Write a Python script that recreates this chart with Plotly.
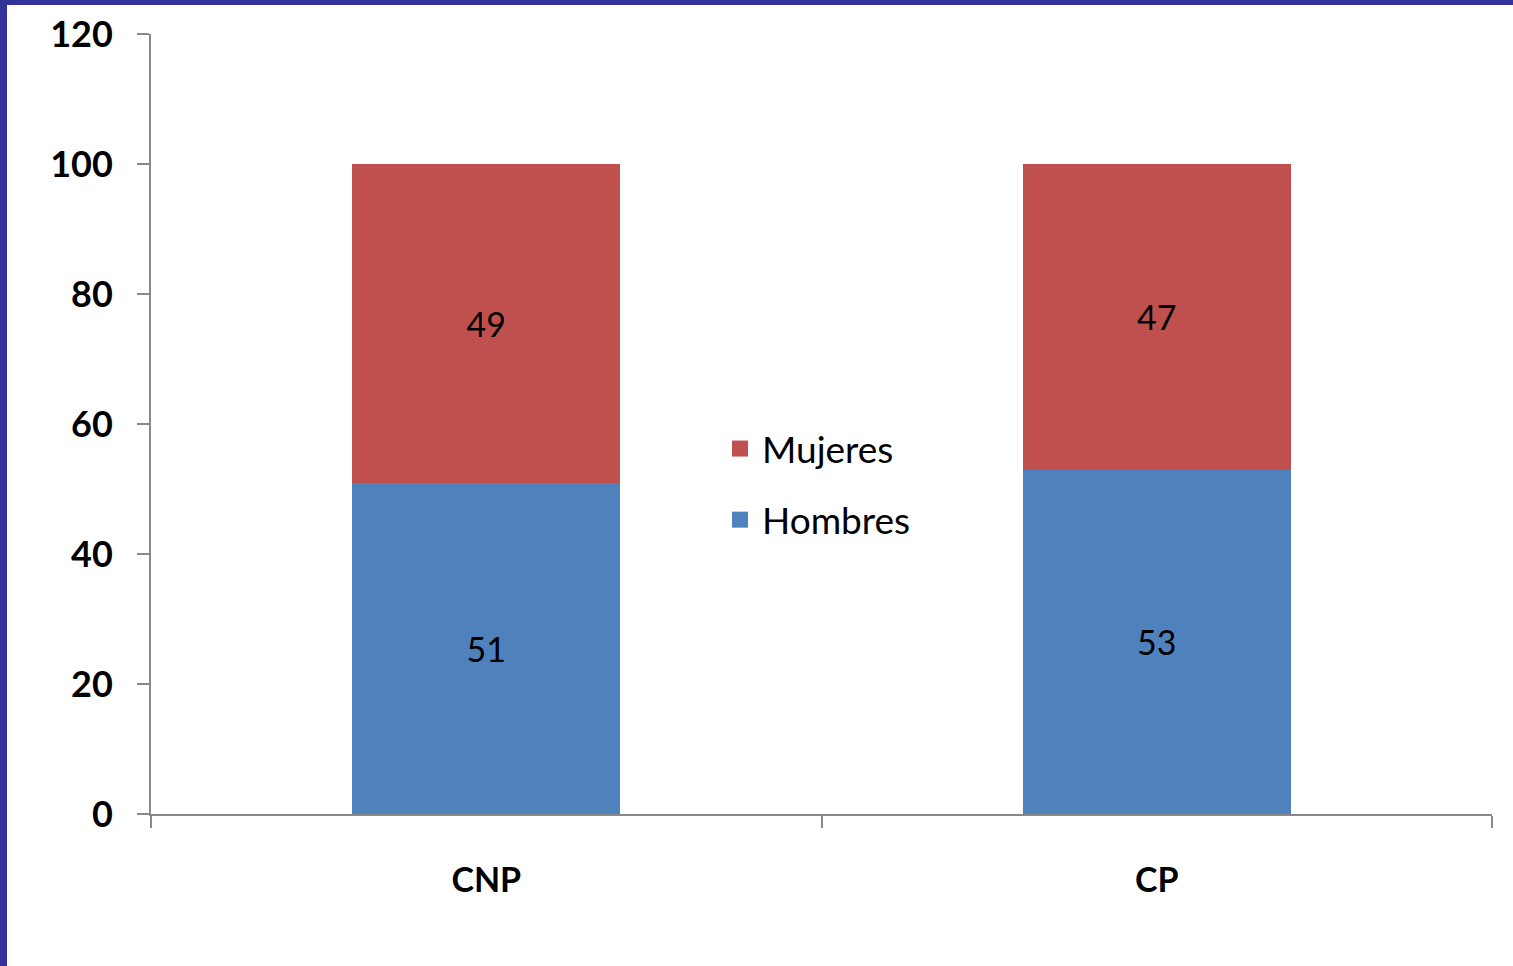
import plotly.graph_objects as go

categories = ["CNP", "CP"]
hombres = [51, 53]
mujeres = [49, 47]
y_ticks = [0, 20, 40, 60, 80, 100, 120]

BLUE = "#4F81BD"
RED = "#C0504D"
AXIS = "#898989"
FONT = "Lato, 'Open Sans', sans-serif"

fig = go.Figure()
fig.add_trace(go.Bar(
    x=categories, y=hombres, name="Hombres", marker_color=BLUE,
    marker_line_width=0, text=hombres, textposition="inside",
    insidetextanchor="middle", textfont=dict(color="black", size=34, family=FONT),
    showlegend=False,
))
fig.add_trace(go.Bar(
    x=categories, y=mujeres, name="Mujeres", marker_color=RED,
    marker_line_width=0, text=mujeres, textposition="inside",
    insidetextanchor="middle", textfont=dict(color="black", size=34, family=FONT),
    showlegend=False,
))
# legend entries (larger square swatches)
for name, color, rank in [("Mujeres", RED, 1), ("Hombres", BLUE, 2)]:
    fig.add_trace(go.Scatter(
        x=[categories[0]], y=[None], mode="markers", name=name,
        marker=dict(symbol="square", size=16, color=color),
        legendgroup=name, legendrank=rank, hoverinfo="skip",
    ))

W, H = 1513, 966
L, R, T, B = 151, 21, 34, 152
pw, ph = W - L - R, H - T - B

def px_x(p):
    return (p - L) / pw

def px_y(p):
    return (H - B - p) / ph

fig.update_layout(
    width=W, height=H,
    margin=dict(l=L, r=R, t=T, b=B, pad=0),
    barmode="stack", bargap=0.6,
    plot_bgcolor="white", paper_bgcolor="white",
    font=dict(family=FONT, color="black"),
    showlegend=True,
    legend=dict(
        x=px_x(718), y=px_y(418), xanchor="left", yanchor="top",
        traceorder="grouped", tracegroupgap=20,
        font=dict(size=37, family=FONT, color="black"),
        bgcolor="rgba(0,0,0,0)", itemwidth=34, itemsizing="trace",
    ),
    xaxis=dict(
        type="category", showline=True, linecolor=AXIS, linewidth=2,
        ticks="outside", tickson="boundaries", ticklen=12, tickwidth=2, tickcolor=AXIS,
        tickfont=dict(size=34, family=FONT, color="black", weight="bold"),
        ticklabelstandoff=35, showgrid=False, zeroline=False,
    ),
    yaxis=dict(
        range=[0, 120], tickvals=y_ticks, showline=True, linecolor=AXIS, linewidth=2,
        ticks="outside", ticklen=12, tickwidth=2, tickcolor=AXIS,
        tickfont=dict(size=36, family=FONT, color="black", weight="bold"),
        ticklabelstandoff=17, showgrid=False, zeroline=False,
    ),
    shapes=[
        dict(type="rect", xref="paper", yref="paper",
             x0=px_x(0), x1=px_x(7), y0=px_y(H), y1=px_y(0),
             fillcolor="#333399", line_width=0, layer="above"),
        dict(type="rect", xref="paper", yref="paper",
             x0=px_x(0), x1=px_x(W), y0=px_y(5), y1=px_y(0),
             fillcolor="#333399", line_width=0, layer="above"),
    ],
)

fig.write_html(
    "out.html",
    config={"displayModeBar": False},
    post_script="document.body.style.margin='0';document.body.style.overflow='hidden';",
)
